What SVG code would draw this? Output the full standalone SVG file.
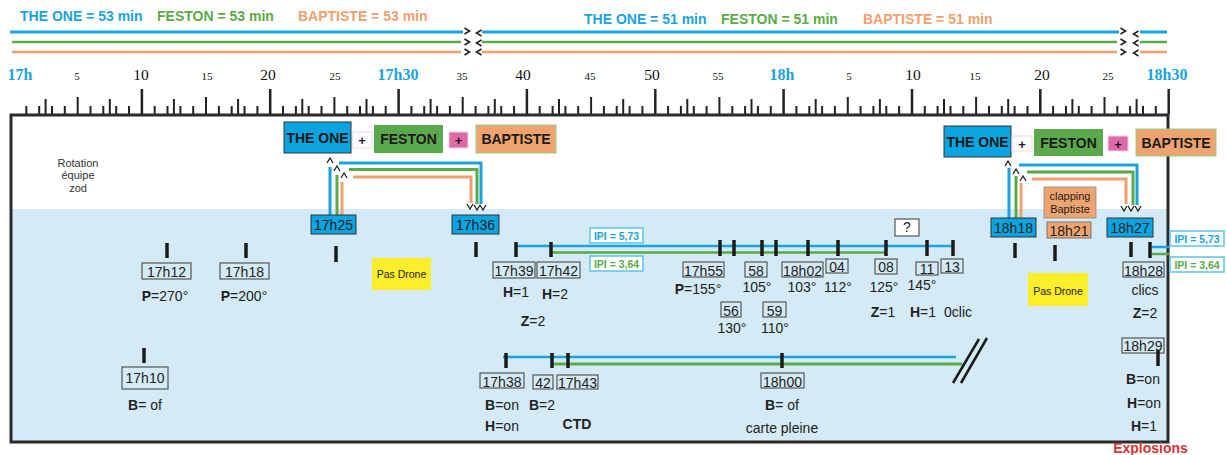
<svg xmlns="http://www.w3.org/2000/svg" width="1227" height="455" viewBox="0 0 1227 455">
<defs>
<style>
.hdr{font:bold 14px 'Liberation Sans',Arial,sans-serif}
.cb{fill:#1ba3e0}.cg{fill:#5aaa46}.co{fill:#f0a06e}
.sb{stroke:#1ba3e0}.sg{stroke:#5aaa46}.so{stroke:#f0a06e}
.rl{font-family:'Liberation Serif','Times New Roman',serif;fill:#111;text-anchor:middle}
.rs{font-size:11px}.rb{font-size:15.5px}
.rc{font-size:16px;font-weight:bold;fill:#1ba3e0}
.tk{stroke:#222;fill:none}
.big{font:bold 14px 'Liberation Sans',Arial,sans-serif;fill:#1a1a1a;text-anchor:middle}
.plus{font:bold 13px 'Liberation Sans',Arial,sans-serif;fill:#1a1a1a;text-anchor:middle}
.tbox{fill:none;stroke:#555;stroke-width:1.2}
.tt{font:14px 'Liberation Sans',Arial,sans-serif;fill:#222;text-anchor:middle}
.lbl{font:14px 'Liberation Sans',Arial,sans-serif;fill:#222;text-anchor:middle}
.b{font-weight:bold}
.sm{font:11px 'Liberation Sans',Arial,sans-serif;fill:#333;text-anchor:middle}
.mk{stroke:#1a1a1a;stroke-width:3.5}
.ipi{fill:#fff;stroke:#5cc3ee;stroke-width:1.5}
.ipt{font:bold 10.5px 'Liberation Sans',Arial,sans-serif;text-anchor:middle}
.con{fill:none;stroke-width:3}
.yel{fill:#fcee2a}
.blueNode{fill:#0aa5e0;stroke:#333;stroke-width:1}
</style>
<path id="up" d="M-3 3 L0 -2 L3 3" fill="none" stroke="#222" stroke-width="1.3"/>
<path id="dn" d="M-3 -3 L0 2 L3 -3" fill="none" stroke="#222" stroke-width="1.3"/>
<path id="gt" d="M-2.5 -3 L2.5 0 L-2.5 3" fill="none" stroke="#222" stroke-width="1.6"/>
<path id="lt" d="M2.5 -3 L-2.5 0 L2.5 3" fill="none" stroke="#222" stroke-width="1.6"/>
</defs>
<rect width="1227" height="455" fill="#fff"/>

<!-- header -->
<g id="header">
<text x="20" y="21" class="hdr cb">THE ONE = 53 min</text>
<text x="157" y="21" class="hdr cg">FESTON = 53 min</text>
<text x="298" y="21" class="hdr co">BAPTISTE = 53 min</text>
<text x="584" y="23.5" class="hdr cb">THE ONE = 51 min</text>
<text x="721" y="23.5" class="hdr cg">FESTON = 51 min</text>
<text x="863" y="23.5" class="hdr co">BAPTISTE = 51 min</text>
<path d="M10 32H463M482 32H1119M1140 32H1167" class="sb" stroke-width="3" fill="none"/>
<path d="M12 42H461M482 42H1117M1140 42H1167" class="sg" stroke-width="2.5" fill="none"/>
<path d="M12 52H461M482 52H1117M1140 52H1167" class="so" stroke-width="2.5" fill="none"/>
<use href="#gt" x="467" y="31"/><use href="#lt" x="479" y="33"/>
<use href="#gt" x="467" y="42"/><use href="#lt" x="479" y="43"/>
<use href="#gt" x="467" y="52"/><use href="#lt" x="479" y="52"/>
<use href="#gt" x="1123" y="31"/><use href="#lt" x="1136" y="34"/>
<use href="#gt" x="1123" y="42"/><use href="#lt" x="1136" y="43"/>
<use href="#gt" x="1123" y="52"/><use href="#lt" x="1136" y="53"/>
</g>

<!-- ruler -->
<g id="ruler">
<text x="20" y="80" class="rl rc">17h</text>
<text x="77" y="80" class="rl rs">5</text>
<text x="141" y="80" class="rl rb">10</text>
<text x="207" y="80" class="rl rs">15</text>
<text x="268" y="80" class="rl rb">20</text>
<text x="335" y="80" class="rl rs">25</text>
<text x="398" y="80" class="rl rc">17h30</text>
<text x="462" y="80" class="rl rs">35</text>
<text x="523" y="80" class="rl rb">40</text>
<text x="590" y="80" class="rl rs">45</text>
<text x="652" y="80" class="rl rb">50</text>
<text x="718" y="80" class="rl rs">55</text>
<text x="782" y="80" class="rl rc">18h</text>
<text x="849" y="80" class="rl rs">5</text>
<text x="913" y="80" class="rl rb">10</text>
<text x="975" y="80" class="rl rs">15</text>
<text x="1042" y="80" class="rl rb">20</text>
<text x="1108" y="80" class="rl rs">25</text>
<text x="1167" y="80" class="rl rc">18h30</text>
<path class="tk" stroke-width="2.5" d="M141.9 89V114M270.2 89V114M398.6 89V114M526.9 89V114M655.3 89V114M783.6 89V114M912 89V114M1040.3 89V114M1168.7 89V114"/>
<path class="tk" stroke-width="2" d="M77.7 97V114M206 97V114M334.4 97V114M462.7 97V114M591.1 97V114M719.4 97V114M847.8 97V114M976.1 97V114M1104.5 97V114"/>
<path class="tk" stroke-width="2" d="M45.6 99V114M109.8 99V114M173.9 99V114M238.1 99V114M302.3 99V114M366.5 99V114M430.6 99V114M494.8 99V114M559 99V114M623.2 99V114M687.3 99V114M751.5 99V114M815.7 99V114M879.9 99V114M944 99V114M1008.2 99V114M1072.4 99V114M1136.6 99V114"/>
<path class="tk" stroke-width="2" d="M26.3 106V114M39.2 106V114M52 106V114M64.8 106V114M90.5 106V114M103.3 106V114M116.2 106V114M129 106V114M154.7 106V114M167.5 106V114M180.4 106V114M193.2 106V114M218.9 106V114M231.7 106V114M244.5 106V114M257.4 106V114M283 106V114M295.9 106V114M308.7 106V114M321.5 106V114M347.2 106V114M360 106V114M372.9 106V114M385.7 106V114M411.4 106V114M424.2 106V114M437.1 106V114M449.9 106V114M475.6 106V114M488.4 106V114M501.2 106V114M514.1 106V114M539.7 106V114M552.6 106V114M565.4 106V114M578.2 106V114M603.9 106V114M616.7 106V114M629.6 106V114M642.4 106V114M668.1 106V114M680.9 106V114M693.8 106V114M706.6 106V114M732.3 106V114M745.1 106V114M757.9 106V114M770.8 106V114M796.4 106V114M809.3 106V114M822.1 106V114M834.9 106V114M860.6 106V114M873.4 106V114M886.3 106V114M899.1 106V114M924.8 106V114M937.6 106V114M950.5 106V114M963.3 106V114M989 106V114M1001.8 106V114M1014.6 106V114M1027.5 106V114M1053.1 106V114M1066 106V114M1078.8 106V114M1091.6 106V114M1117.3 106V114M1130.1 106V114M1143 106V114M1155.8 106V114"/>
</g>

<!-- frame -->
<g id="frame">
<rect x="11" y="209" width="1157" height="232" fill="#d5eaf7"/>
<rect x="11" y="115" width="1157" height="327" fill="none" stroke="#2b2b2b" stroke-width="3"/>
</g>

<g id="rotation">
<text x="78" y="167" class="sm">Rotation</text>
<text x="78" y="179" class="sm">équipe</text>
<text x="78" y="192" class="sm">zod</text>
</g>

<!-- top team nodes, group 1 -->
<g id="theone1"><rect x="284" y="122" width="67" height="31" class="blueNode"/><text x="317.5" y="143" class="big">THE ONE</text></g>
<g id="plus1a"><rect x="352.5" y="132" width="19.5" height="16" fill="#fff" stroke="#f2d6e0" stroke-width="1"/><text x="362" y="145" class="plus">+</text></g>
<g id="feston1"><rect x="374" y="125" width="69" height="28" fill="#5aa94c"/><text x="408.5" y="144" class="big">FESTON</text></g>
<g id="plus1b"><rect x="449" y="132" width="19" height="16" fill="#e06aa8" stroke="#f2d6e0" stroke-width="1"/><text x="458.5" y="145" class="plus">+</text></g>
<g id="baptiste1"><rect x="476" y="125" width="80" height="28" fill="#efa46f" stroke="#8fcf7f" stroke-width="1"/><text x="516" y="144" class="big">BAPTISTE</text></g>

<!-- top team nodes, group 2 -->
<g id="theone2"><rect x="944" y="126" width="67" height="31" class="blueNode"/><text x="977.5" y="147" class="big">THE ONE</text></g>
<g id="plus2a"><rect x="1012" y="136" width="20" height="15" fill="#fff" stroke="#f2d6e0" stroke-width="1"/><text x="1022" y="148.5" class="plus">+</text></g>
<g id="feston2"><rect x="1034" y="129" width="69" height="27" fill="#5aa94c"/><text x="1068.5" y="147.5" class="big">FESTON</text></g>
<g id="plus2b"><rect x="1108" y="136" width="20" height="15" fill="#e06aa8" stroke="#f2d6e0" stroke-width="1"/><text x="1118" y="148.5" class="plus">+</text></g>
<g id="baptiste2"><rect x="1136" y="129" width="80" height="27" fill="#efa46f" stroke="#8fcf7f" stroke-width="1"/><text x="1176" y="147.5" class="big">BAPTISTE</text></g>

<!-- connectors -->
<g id="connectors">
<path d="M330 215V167" class="con sb"/>
<path d="M337 215V175" class="con sg"/>
<path d="M342 215V182" class="con so"/>
<path d="M339 163H481V204" class="con sb" stroke-width="3.5"/>
<path d="M349 169.5H477V204" class="con sg"/>
<path d="M353 177H471V203" class="con so"/>
<use href="#up" x="330" y="160"/><use href="#up" x="337" y="168"/><use href="#up" x="344" y="175"/>
<use href="#dn" x="470" y="207"/><use href="#dn" x="477" y="208"/><use href="#dn" x="483" y="208"/>

<path d="M1009 218V168" class="con sb"/>
<path d="M1016 218V176" class="con sg"/>
<path d="M1021 218V183" class="con so"/>
<path d="M1019 165H1137V205" class="con sb" stroke-width="3.5"/>
<path d="M1027 172H1133V205" class="con sg"/>
<path d="M1032 179H1126V204" class="con so"/>
<use href="#up" x="1008" y="163"/><use href="#up" x="1016" y="171"/><use href="#up" x="1023" y="178"/>
<use href="#dn" x="1124" y="209"/><use href="#dn" x="1131" y="209"/><use href="#dn" x="1138" y="209"/>

<path d="M516 246H953" class="sb" stroke-width="2.5" fill="none"/>
<path d="M550 252.5H886" class="sg" stroke-width="2.5" fill="none"/>
<path d="M503 357H956" class="sb" stroke-width="2.5" fill="none"/>
<path d="M552 364H962" class="sg" stroke-width="3" fill="none"/>
<path d="M1152 247H1170" class="sb" stroke-width="2.5" fill="none"/>
<path d="M1152 254H1170" class="sg" stroke-width="2.5" fill="none"/>
<path d="M953 383L979 339M961 383L987 338" stroke="#1a1a1a" stroke-width="2.5" fill="none"/>
</g>

<!-- IPI labels -->
<g id="ipi1"><rect x="590" y="228" width="53" height="15" class="ipi"/><text x="616.5" y="239.5" class="ipt cb">IPI = 5,73</text></g>
<g id="ipi2"><rect x="590" y="256" width="53" height="15" class="ipi"/><text x="616.5" y="267.5" class="ipt cg">IPI = 3,64</text></g>
<g id="ipi3"><rect x="1170" y="231" width="54" height="15" class="ipi"/><text x="1197" y="242.5" class="ipt cb">IPI = 5,73</text></g>
<g id="ipi4"><rect x="1170" y="257" width="54" height="15" class="ipi"/><text x="1197" y="268.5" class="ipt cg">IPI = 3,64</text></g>

<!-- Pas Drone -->
<g id="pasdrone1"><rect x="372" y="258" width="59" height="32" class="yel"/><text x="401.5" y="278" class="sm" style="font-size:10.5px;fill:#222">Pas Drone</text></g>
<g id="pasdrone2"><rect x="1028" y="273" width="60" height="33" class="yel"/><text x="1058" y="295" class="sm" style="font-size:10.5px;fill:#222">Pas Drone</text></g>

<!-- events -->
<g id="e17h25"><rect x="311" y="215" width="45" height="19" class="blueNode"/><text x="333.5" y="230" class="tt">17h25</text><path d="M336 246V262" class="mk"/></g>
<g id="e17h36"><rect x="452" y="215" width="47" height="19" class="blueNode"/><text x="475.5" y="230" class="tt">17h36</text><path d="M476 242V257" class="mk"/></g>
<g id="e18h18"><rect x="991" y="218" width="45" height="19" class="blueNode"/><text x="1013.5" y="233" class="tt">18h18</text><path d="M1015 243V258" class="mk"/></g>
<g id="e18h27"><rect x="1107" y="218" width="46" height="19" class="blueNode"/><text x="1130" y="233" class="tt">18h27</text><path d="M1131 242V257" class="mk"/></g>
<g id="clapping"><rect x="1044" y="187" width="52" height="31" fill="#efa46f" stroke="#888" stroke-width="0.8"/><text x="1070" y="200" class="sm" style="fill:#222">clapping</text><text x="1070" y="213" class="sm" style="fill:#222">Baptiste</text></g>
<g id="e18h21"><rect x="1047" y="222" width="44" height="16" fill="#efa46f" stroke="#777" stroke-width="1"/><text x="1069" y="235.5" class="tt">18h21</text><path d="M1055 245V261" class="mk"/></g>
<g id="question"><rect x="895" y="219" width="24" height="17" fill="#fff" stroke="#555" stroke-width="1.2"/><text x="907" y="232" class="tt">?</text></g>

<g id="e17h12"><path d="M167 243V258" class="mk"/><rect x="142" y="263" width="49" height="16" class="tbox"/><text x="166.5" y="277" class="tt">17h12</text><text x="165" y="301" class="lbl"><tspan class="b">P</tspan>=270°</text></g>
<g id="e17h18"><path d="M246 243V258" class="mk"/><rect x="220" y="263" width="49" height="16" class="tbox"/><text x="244.5" y="277" class="tt">17h18</text><text x="244" y="301" class="lbl"><tspan class="b">P</tspan>=200°</text></g>
<g id="e17h10"><path d="M144 348V363" class="mk"/><rect x="122" y="367" width="46" height="22" class="tbox"/><text x="145" y="383" class="tt">17h10</text><text x="145" y="410" class="lbl"><tspan class="b">B</tspan>= of</text></g>

<g id="e17h39"><path d="M516 242V257" class="mk"/><rect x="493" y="262" width="42" height="16" class="tbox"/><text x="514" y="276" class="tt">17h39</text><text x="516" y="297" class="lbl"><tspan class="b">H</tspan>=1</text></g>
<g id="e17h42"><path d="M551 242V257" class="mk"/><rect x="537" y="262" width="43" height="16" class="tbox"/><text x="558.5" y="276" class="tt">17h42</text><text x="555" y="299" class="lbl"><tspan class="b">H</tspan>=2</text><text x="533" y="326" class="lbl"><tspan class="b">Z</tspan>=2</text></g>
<g id="e17h55"><path d="M720 240V256" class="mk"/><rect x="683" y="262" width="41" height="15" class="tbox"/><text x="703.5" y="275.5" class="tt">17h55</text><text x="698" y="294" class="lbl"><tspan class="b">P</tspan>=155°</text></g>
<g id="e56"><path d="M734 240V256" class="mk"/><rect x="721" y="302" width="20" height="15" class="tbox"/><text x="731" y="315.5" class="tt">56</text><text x="732" y="333" class="lbl">130°</text></g>
<g id="e58"><path d="M762 240V256" class="mk"/><rect x="745" y="262" width="22" height="15" class="tbox"/><text x="756" y="275.5" class="tt">58</text><text x="757" y="292" class="lbl">105°</text></g>
<g id="e59"><path d="M776 240V256" class="mk"/><rect x="763" y="302" width="23" height="15" class="tbox"/><text x="774.5" y="315.5" class="tt">59</text><text x="775" y="333" class="lbl">110°</text></g>
<g id="e18h02"><path d="M808 240V256" class="mk"/><rect x="782" y="262" width="41" height="15" class="tbox"/><text x="802.5" y="275.5" class="tt">18h02</text><text x="802" y="292" class="lbl">103°</text></g>
<g id="e04"><path d="M838 240V256" class="mk"/><rect x="826" y="259" width="22" height="14" class="tbox"/><text x="837" y="271.5" class="tt">04</text><text x="838" y="292" class="lbl">112°</text></g>
<g id="e08"><path d="M886 240V256" class="mk"/><rect x="875" y="259" width="22" height="15" class="tbox"/><text x="886" y="272" class="tt">08</text><text x="884" y="292" class="lbl">125°</text><text x="883" y="317" class="lbl"><tspan class="b">Z</tspan>=1</text></g>
<g id="e11"><path d="M927 240V256" class="mk"/><rect x="916" y="262" width="22" height="13" class="tbox"/><text x="927" y="274" class="tt">11</text><text x="922" y="290" class="lbl">145°</text><text x="923" y="317" class="lbl"><tspan class="b">H</tspan>=1</text></g>
<g id="e13"><path d="M953 240V256" class="mk"/><rect x="941" y="259" width="22" height="14" class="tbox"/><text x="952" y="271.5" class="tt">13</text><text x="958" y="317" class="lbl">0clic</text></g>

<g id="e18h28"><path d="M1150 242V258" class="mk"/><rect x="1123" y="262" width="41" height="15" class="tbox"/><text x="1143.5" y="275.5" class="tt">18h28</text><text x="1145" y="295" class="lbl">clics</text><text x="1145" y="318" class="lbl"><tspan class="b">Z</tspan>=2</text></g>
<g id="e18h29"><rect x="1122" y="338" width="42" height="15" class="tbox"/><text x="1143" y="351" class="tt">18h29</text><path d="M1158 350V366" class="mk"/><text x="1143" y="384" class="lbl"><tspan class="b">B</tspan>=on</text><text x="1144" y="408" class="lbl"><tspan class="b">H</tspan>=on</text><text x="1144" y="431" class="lbl"><tspan class="b">H</tspan>=1</text></g>
<g id="explosions"><text x="1150.5" y="453" class="big" style="fill:#d53434">Explosions</text></g>

<g id="e17h38"><path d="M506 353V368" class="mk"/><rect x="480" y="373" width="44" height="15" class="tbox"/><text x="502" y="386.5" class="tt">17h38</text><text x="502" y="410" class="lbl"><tspan class="b">B</tspan>=on</text><text x="502" y="431" class="lbl"><tspan class="b">H</tspan>=on</text></g>
<g id="e42b"><path d="M552 353V368" class="mk"/><rect x="533" y="375" width="20" height="14" class="tbox"/><text x="543" y="387.5" class="tt">42</text><text x="542" y="410" class="lbl"><tspan class="b">B</tspan>=2</text></g>
<g id="e17h43"><path d="M568 353V368" class="mk"/><rect x="557" y="375" width="41" height="14" class="tbox"/><text x="577.5" y="387.5" class="tt">17h43</text><text x="577" y="429" class="lbl b">CTD</text></g>
<g id="e18h00"><path d="M782 353V368" class="mk"/><rect x="761" y="373" width="43" height="15" class="tbox"/><text x="782.5" y="386.5" class="tt">18h00</text><text x="782" y="410" class="lbl"><tspan class="b">B</tspan>= of</text><text x="782" y="433" class="lbl">carte pleine</text></g>
</svg>
